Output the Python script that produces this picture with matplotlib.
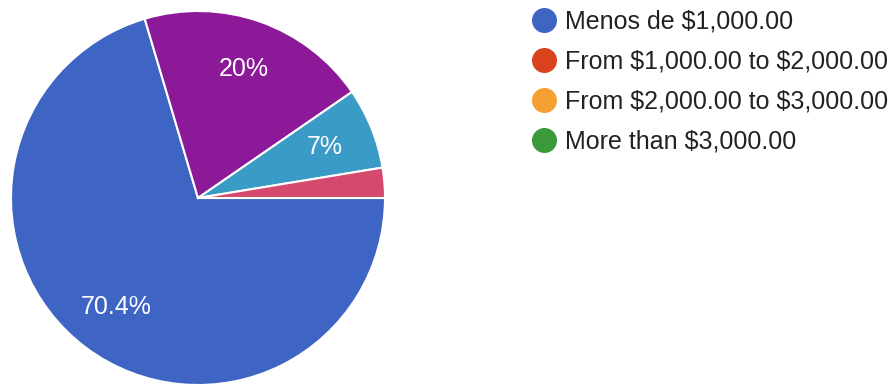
import matplotlib
matplotlib.use("Agg")
import matplotlib.pyplot as plt
from matplotlib.lines import Line2D

plt.rcParams['font.family'] = ['Liberation Sans', 'DejaVu Sans']
plt.rcParams['text.parse_math'] = False

# pie slices, clockwise from 3 o'clock
shares = [70.4, 20.0, 7.0, 2.6]
slice_colors = ['#3e64c4', '#8c1a98', '#3b9bc7', '#d6496e']

# legend entries
legend_labels = ['Menos de $1,000.00',
                 'From $1,000.00 to $2,000.00',
                 'From $2,000.00 to $3,000.00',
                 'More than $3,000.00']
legend_colors = ['#3e64c4', '#d8431e', '#f5a033', '#3a9a3a']


def pct_label(p):
    if p < 5:
        return ''
    return f"{p:.1f}".rstrip('0').rstrip('.') + '%'


fig = plt.figure(figsize=(8.93, 3.86), dpi=100)
ax = fig.add_axes([11/893, 1/386, 374/893, 374/386])

wedges, texts, autotexts = ax.pie(shares,
                                  colors=slice_colors,
                                  startangle=0,
                                  counterclock=False,
                                  autopct=pct_label,
                                  pctdistance=0.73,
                                  radius=1.0,
                                  wedgeprops=dict(edgecolor='white', linewidth=1.5))
for t in autotexts:
    t.set_color('white')
    t.set_fontsize(18)
ax.set_xlim(-1.0, 1.0)
ax.set_ylim(-1.0, 1.0)
ax.set_aspect('equal')
ax.axis('off')

handles = [Line2D([], [], linestyle='none', marker='o', markersize=17,
                  markerfacecolor=c, markeredgecolor=c)
           for c in legend_colors]
fig.legend(handles, legend_labels,
           loc='upper left',
           bbox_to_anchor=(520/893, 1 - 0/386),
           frameon=False,
           fontsize=18,
           labelcolor='#222222',
           handletextpad=0.25,
           labelspacing=0.63,
           handlelength=1.15,
           borderaxespad=0)

fig.savefig('out.png', dpi=100, facecolor='white')
